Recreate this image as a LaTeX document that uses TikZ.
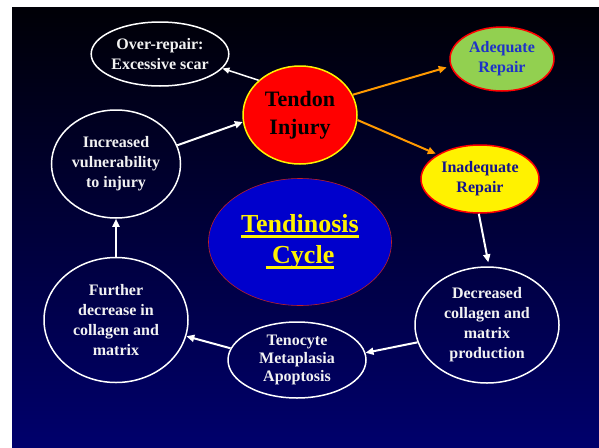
\documentclass[tikz,border=0pt]{standalone}
\usepackage{fontspec}
\setmainfont{Liberation Serif}
\usetikzlibrary{shapes.geometric,arrows.meta}
\definecolor{bgtop}{RGB}{0,0,6}
\definecolor{bgbot}{RGB}{0,0,108}
\definecolor{txtw}{RGB}{242,242,242}
\definecolor{orng}{RGB}{255,153,0}
\definecolor{lgreen}{RGB}{146,208,80}
\definecolor{adqtext}{RGB}{30,50,200}
\definecolor{inadqtext}{RGB}{20,20,140}
\definecolor{cycblue}{RGB}{0,0,204}
\definecolor{cycred}{RGB}{190,30,40}
\newcommand{\myul}[1]{\setbox0=\hbox{#1}\leavevmode\rlap{\copy0}\rule[-5pt]{\wd0}{2.5pt}}
\begin{document}
\begin{tikzpicture}[x=1pt,y=-1pt,
  wnode/.style={ellipse, draw=white, line width=1.5pt, text=txtw, align=center, inner sep=0pt,
    font=\bfseries\fontsize{16}{20}\selectfont},
  warrow/.style={draw=white, line width=2pt, -{Triangle[length=8pt,width=7pt]}},
  thinarrow/.style={draw=white, line width=1.5pt, -{Triangle[length=7pt,width=6pt]}},
  oarrow/.style={draw=orng, line width=2pt, -{Triangle[length=8pt,width=7pt]}}]
\useasboundingbox (0,0) rectangle (599,447);
\fill[white] (0,0) rectangle (599,447);
\shade[top color=bgtop, bottom color=bgbot] (12,7) rectangle (599,447);

\node[wnode, minimum width=128pt, minimum height=64pt] (over) at (160,54) {Over-repair:\\Excessive scar};
\node[ellipse, fill=red, draw=yellow, line width=1.5pt, minimum width=114pt, minimum height=98pt,
  inner sep=0pt, align=center, font=\bfseries\fontsize{22}{28}\selectfont] (tendon) at (300,115) {Tendon\\Injury};
\node[ellipse, fill=lgreen, draw=red, line width=1.5pt, minimum width=104pt, minimum height=64pt,
  inner sep=0pt, align=center, text=adqtext, font=\bfseries\fontsize{16}{20}\selectfont] (adequate) at (502,59) {Adequate\\Repair};
\node[ellipse, fill=yellow, draw=red, line width=1.5pt, minimum width=118pt, minimum height=68pt,
  inner sep=0pt, align=center, text=inadqtext, font=\bfseries\fontsize{16}{20}\selectfont] (inadequate) at (480,179) {Inadequate\\Repair};
\node[wnode, minimum width=144pt, minimum height=116pt] (decreased) at (487,325) {Decreased\\collagen and\\matrix\\production};
\node[wnode, minimum width=138pt, minimum height=76pt, font=\bfseries\fontsize{16}{18}\selectfont] (tenocyte) at (297,360) {Tenocyte\\Metaplasia\\Apoptosis};
\node[wnode, minimum width=144pt, minimum height=125pt] (further) at (116,320) {Further\\decrease in\\collagen and\\matrix};
\node[wnode, minimum width=129pt, minimum height=108pt] (increased) at (116,164) {Increased\\vulnerability\\to injury};
\node[ellipse, fill=cycblue, draw=cycred, line width=0.6pt, minimum width=183pt, minimum height=127pt,
  inner sep=0pt, align=center, text=yellow, font=\bfseries\fontsize{26}{31}\selectfont] (cycle) at (300,242)
  {\myul{Tendinosis}\\\myul{\ Cycle}};

\draw[thinarrow] (tendon.140) -- (over.-13);
\draw[warrow] (increased.17) -- (tendon.187);
\draw[oarrow, shorten >=4pt] (tendon.21) -- (adequate.188);
\draw[oarrow, shorten >=2pt] (tendon.-5) -- (inadequate.150);
\draw[warrow, shorten >=4pt] (inadequate.-92) -- (decreased.88);
\draw[warrow] (decreased.194) -- (tenocyte.6);
\draw[warrow] (tenocyte.170) -- (further.-13);
\draw[warrow] (further.north) -- (increased.south);
\end{tikzpicture}
\end{document}
